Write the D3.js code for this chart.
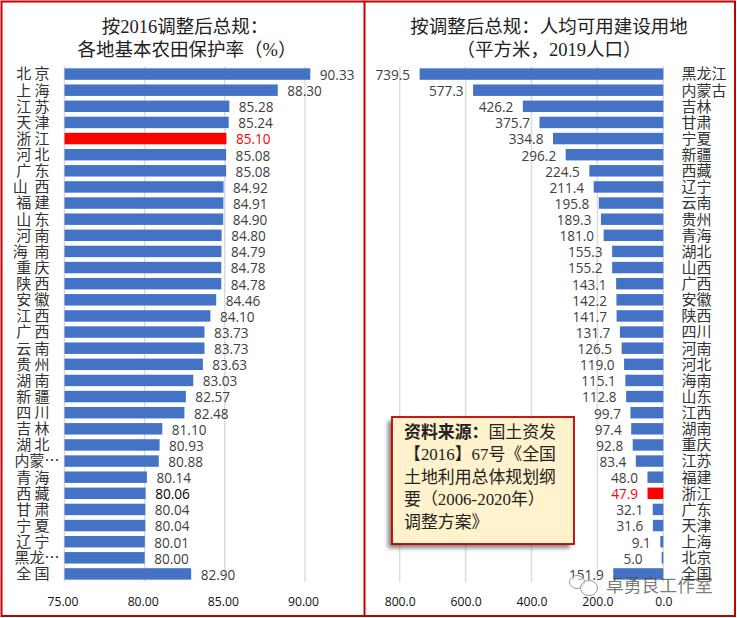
<!DOCTYPE html>
<html>
<head>
<meta charset="utf-8">
<script src="https://cdnjs.cloudflare.com/ajax/libs/d3/7.8.5/d3.min.js"></script>
<style>
  html, body { margin: 0; padding: 0; background: #fff; }
  svg { display: block; }
  text { font-family: "Noto Sans CJK SC", sans-serif; }
  .title { font-family: "Liberation Serif", "Noto Sans CJK SC", serif; font-size: 18.5px; fill: #222; text-anchor: middle; }
  .val { font-family: "Open Sans", sans-serif; font-size: 13.6px; fill: #404040; }
  .tick text { font-family: "Open Sans", sans-serif; font-size: 12.2px; fill: #111; }
  .cat text { font-family: "Noto Sans CJK SC", sans-serif; font-size: 15px; fill: #333; }
  .note { font-family: "Liberation Serif", "Noto Sans CJK SC", serif; font-size: 16.9px; fill: #222; }
</style>
</head>
<body>
<div id="chart"></div>
<script>
// Left panel: basic farmland protection rate (%)
const rateNames = ["北 京", "上 海", "江 苏", "天 津", "浙 江", "河 北", "广 东", "山  西", "福 建", "山 东", "河 南", "海  南", "重 庆", "陕 西", "安 徽", "江 西", "广 西", "云 南", "贵 州", "湖 南", "新 疆", "四 川", "吉 林", "湖 北", "内蒙…", "青 海", "西 藏", "甘 肃", "宁 夏", "辽 宁", "黑龙…", "全 国"];
const rateValues = [90.33, 88.30, 85.28, 85.24, 85.10, 85.08, 85.08, 84.92, 84.91, 84.90, 84.80, 84.79, 84.78, 84.78, 84.46, 84.10, 83.73, 83.73, 83.63, 83.03, 82.57, 82.48, 81.10, 80.93, 80.88, 80.14, 80.06, 80.04, 80.04, 80.01, 80.00, 82.90];
const rateTicks = [75, 80, 85, 90];

// Right panel: usable construction land per capita (sq m, 2019 population)
const landNames = ["黑龙江", "内蒙古", "吉林", "甘肃", "宁夏", "新疆", "西藏", "辽宁", "云南", "贵州", "青海", "湖北", "山西", "广西", "安徽", "陕西", "四川", "河南", "河北", "海南", "山东", "江西", "湖南", "重庆", "江苏", "福建", "浙江", "广东", "天津", "上海", "北京", "全国"];
const landValues = [739.5, 577.3, 426.2, 375.7, 334.8, 296.2, 224.5, 211.4, 195.8, 189.3, 181.0, 155.3, 155.2, 143.1, 142.2, 141.7, 131.7, 126.5, 119.0, 115.1, 112.8, 99.7, 97.4, 92.8, 83.4, 48.0, 47.9, 32.1, 31.6, 9.1, 5.0, 151.9];
const landTicks = [800, 600, 400, 200, 0];

const noteLines = ["国土资发", "【2016】67号《全国", "土地利用总体规划纲", "要（2006-2020年）", "调整方案》"];

const width = 737, height = 618;
const plotTop = 66, plotBottom = 582;
const blue = "#4472c4", red = "#ff0000", frameRed = "#c00000";

const svg = d3.select("#chart").append("svg")
    .attr("width", width)
    .attr("height", height);

svg.append("defs").append("filter").attr("id", "shadow")
    .attr("x", "-10%").attr("y", "-10%").attr("width", "125%").attr("height", "125%")
    .append("feGaussianBlur").attr("stdDeviation", 2);

function drawPanel(names, x, ticks, fmt, labelShift) {
    const y = d3.scaleBand().domain(d3.range(names.length)).range([plotTop, plotBottom]).paddingInner(0.29).paddingOuter(0.145);
    const g = svg.append("g");

    // grid
    g.append("g").selectAll("line")
        .data(ticks)
        .enter()
        .append("line")
        .attr("x1", d => x(d))
        .attr("x2", d => x(d))
        .attr("y1", plotTop)
        .attr("y2", plotBottom)
        .attr("stroke", "#dcdcdc")
        .attr("stroke-width", 1.5);

    // x axis, labels only
    const axis = g.append("g")
        .attr("transform", `translate(${labelShift},${plotBottom + 5.5})`)
        .call(d3.axisBottom(x).tickValues(ticks).tickFormat(fmt).tickSize(0).tickPadding(10));
    axis.select(".domain").remove();

    return { g, y };
}

// ---- left panel
const xRate = d3.scaleLinear().domain([75, 90]).range([64.5, 305]);
const ratePanel = drawPanel(rateNames, xRate, rateTicks, d3.format(".2f"), -2);

ratePanel.g.append("g").selectAll("rect")
    .data(rateValues)
    .enter()
    .append("rect")
    .attr("x", xRate(75))
    .attr("y", (d, i) => ratePanel.y(i))
    .attr("width", d => xRate(d) - xRate(75))
    .attr("height", ratePanel.y.bandwidth())
    .attr("fill", (d, i) => rateNames[i] === "浙 江" ? red : blue);

ratePanel.g.append("g").selectAll("text")
    .data(rateValues)
    .enter()
    .append("text")
    .attr("class", "val")
    .attr("x", d => xRate(d) + 9.5)
    .attr("y", (d, i) => ratePanel.y(i) + ratePanel.y.bandwidth() / 2 + 1)
    .attr("dy", "0.36em")
    .style("fill", (d, i) => rateNames[i] === "浙 江" ? red : rateNames[i] === "西 藏" ? "#000" : null)
    .text(d => d3.format(".2f")(d));

ratePanel.g.append("g").attr("class", "cat")
    .selectAll("text")
    .data(rateNames)
    .enter()
    .append("text")
    .attr("x", d => d.endsWith("…") ? 59.5 : 49.5)
    .attr("y", (d, i) => ratePanel.y(i) + ratePanel.y.bandwidth() / 2)
    .attr("dy", "0.36em")
    .attr("text-anchor", "end")
    .style("white-space", "pre")
    .text(d => d);

// ---- right panel
const xLand = d3.scaleLinear().domain([0, 800]).range([663.3, 399.7]);
const landPanel = drawPanel(landNames, xLand, landTicks, d3.format(".1f"), 0);

landPanel.g.append("g").selectAll("rect")
    .data(landValues)
    .enter()
    .append("rect")
    .attr("x", d => xLand(d))
    .attr("y", (d, i) => landPanel.y(i))
    .attr("width", d => xLand(0) - xLand(d))
    .attr("height", landPanel.y.bandwidth())
    .attr("fill", (d, i) => landNames[i] === "浙江" ? red : blue);

landPanel.g.append("g").selectAll("text")
    .data(landValues)
    .enter()
    .append("text")
    .attr("class", "val")
    .attr("x", (d, i) => xLand(d) - (landNames[i] === "北京" ? 19 : 9.5))
    .attr("y", (d, i) => landPanel.y(i) + landPanel.y.bandwidth() / 2 + 1)
    .attr("dy", "0.36em")
    .attr("text-anchor", "end")
    .style("fill", (d, i) => landNames[i] === "浙江" ? red : null)
    .text(d => d3.format(".1f")(d));

landPanel.g.append("g").attr("class", "cat")
    .selectAll("text")
    .data(landNames)
    .enter()
    .append("text")
    .attr("x", 681.5)
    .attr("y", (d, i) => landPanel.y(i) + landPanel.y.bandwidth() / 2)
    .attr("dy", "0.36em")
    .text(d => d);

// ---- titles
svg.append("text").attr("class", "title").attr("x", 185).attr("y", 32.5).text("按2016调整后总规：");
svg.append("text").attr("class", "title").attr("x", 187).attr("y", 56).text("各地基本农田保护率（%）");
svg.append("text").attr("class", "title").attr("x", 549).attr("y", 32.5).text("按调整后总规：人均可用建设用地");
svg.append("text").attr("class", "title").attr("x", 549).attr("y", 56).text("（平方米，2019人口）");

// ---- source note
svg.append("rect")
    .attr("x", 388).attr("y", 421).attr("width", 182).attr("height", 127)
    .attr("fill", "#555").attr("opacity", 0.75).attr("filter", "url(#shadow)");
svg.append("rect")
    .attr("x", 392).attr("y", 417).attr("width", 182).attr("height", 127)
    .attr("fill", "#fff2cc").attr("stroke", frameRed).attr("stroke-width", 1.8);

const note = svg.append("text").attr("class", "note");
noteLines.forEach((t, i) => {
    const line = note.append("tspan").attr("x", 404).attr("y", 437.5 + i * 22.5);
    if (i === 0) {
        line.append("tspan").attr("font-weight", 700).text("资料来源：");
    }
    line.append("tspan").text(t);
});

// ---- frames
svg.append("rect")
    .attr("x", 1.5).attr("y", 1.5).attr("width", 733.5).attr("height", 614.5)
    .attr("fill", "none").attr("stroke", frameRed).attr("stroke-width", 2);
svg.append("line")
    .attr("x1", 364.5).attr("x2", 364.5).attr("y1", 1).attr("y2", 616)
    .attr("stroke", frameRed).attr("stroke-width", 2);

// ---- watermark
const mark = svg.append("g").attr("fill", "rgba(255,255,255,0.55)").attr("stroke", "#999").attr("stroke-width", 1);
mark.append("ellipse").attr("cx", 577).attr("cy", 582).attr("rx", 7.5).attr("ry", 6.5);
mark.append("ellipse").attr("cx", 589).attr("cy", 588).attr("rx", 8.5).attr("ry", 7.5);
svg.append("text")
    .attr("x", 606).attr("y", 592)
    .attr("font-size", 17.8)
    .attr("fill", "rgba(80,80,80,0.75)")
    .text("卓勇良工作室");
</script>
</body>
</html>
